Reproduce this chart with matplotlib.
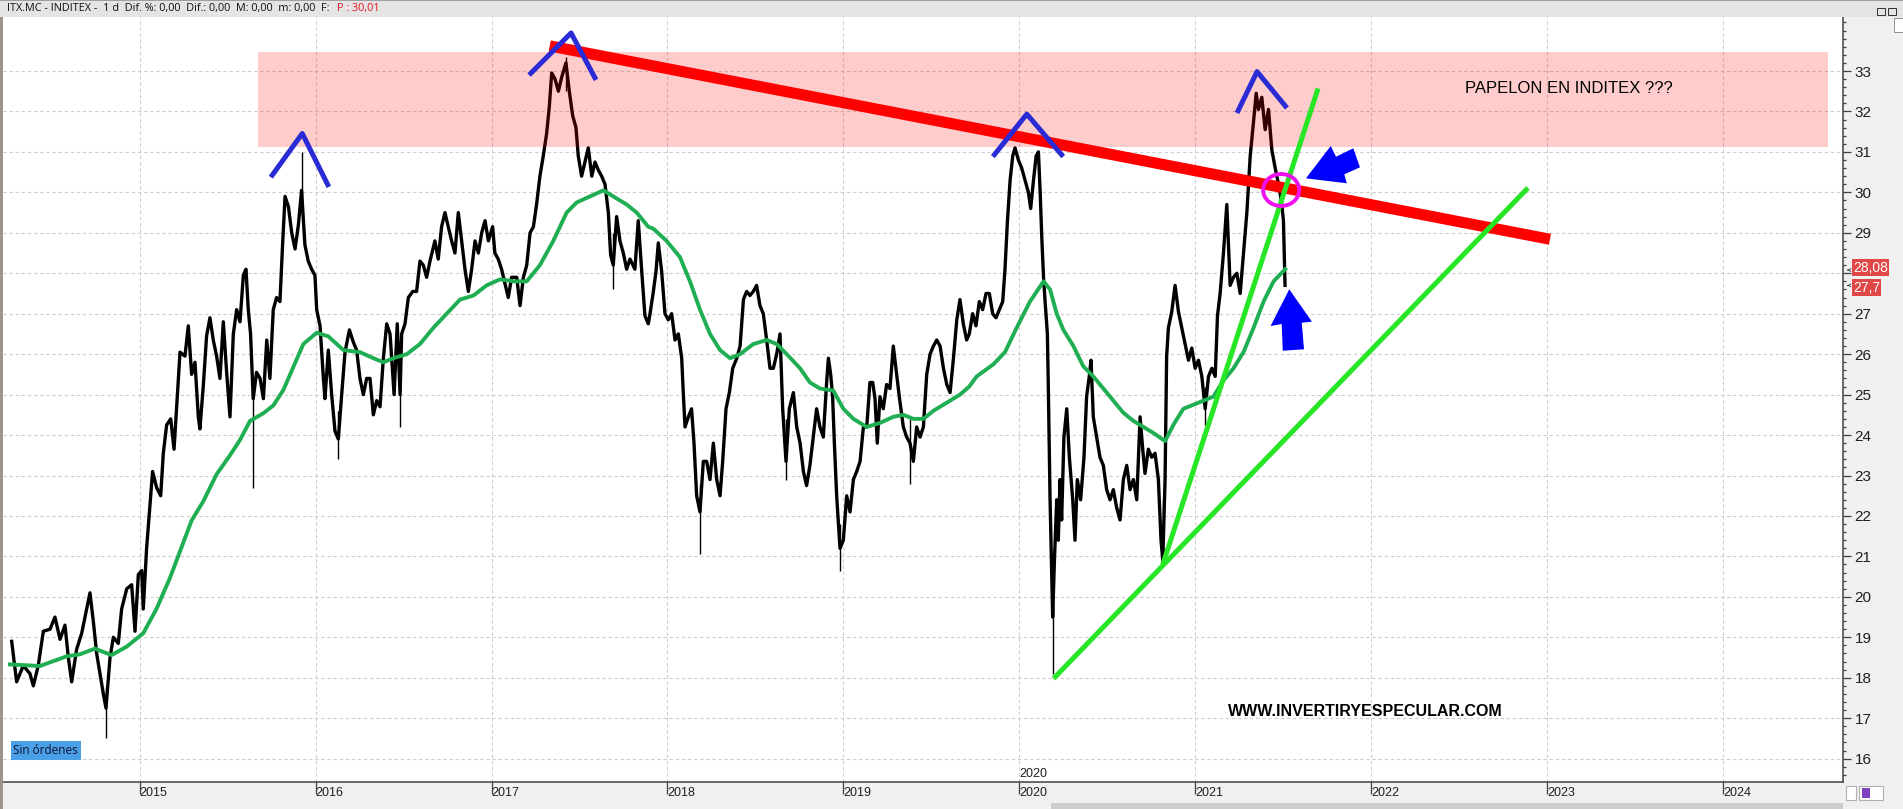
#!/usr/bin/env python
"""ITX.MC - INDITEX daily chart with hand drawn resistance / support lines."""

import matplotlib
matplotlib.use('Agg')
import matplotlib.pyplot as plt
from matplotlib.patches import Rectangle, Ellipse, Polygon
from matplotlib.ticker import MultipleLocator
from matplotlib import font_manager as fm

# ---------------------------------------------------------------- data
# price path: (decimal year, price)
px_2014 = [(2014.272, 18.9), (2014.300, 17.9), (2014.338, 18.3), (2014.376, 18.1), (2014.395, 17.8),
           (2014.423, 18.3), (2014.452, 19.15), (2014.490, 19.2), (2014.518, 19.5), (2014.547, 18.95),
           (2014.575, 19.3), (2014.594, 18.5), (2014.613, 17.9), (2014.641, 18.7), (2014.670, 19.1),
           (2014.698, 19.7), (2014.717, 20.1), (2014.736, 19.4), (2014.755, 18.6), (2014.774, 18.1),
           (2014.793, 17.6), (2014.808, 17.25), (2014.831, 18.5), (2014.850, 19.0), (2014.878, 18.85),
           (2014.897, 19.7), (2014.926, 20.2), (2014.954, 20.3), (2014.973, 19.15), (2014.992, 20.55)]
px_2015 = [(2015.011, 20.65), (2015.020, 19.7), (2015.039, 21.2), (2015.058, 22.25), (2015.073, 23.1),
           (2015.096, 22.7), (2015.119, 22.5), (2015.134, 23.55), (2015.153, 24.25), (2015.176, 24.4),
           (2015.195, 23.65), (2015.214, 25.0), (2015.229, 26.05), (2015.257, 25.95), (2015.276, 26.7),
           (2015.295, 25.5), (2015.314, 25.8), (2015.333, 24.45), (2015.342, 24.15), (2015.361, 25.2),
           (2015.380, 26.45), (2015.399, 26.9), (2015.418, 26.35), (2015.437, 25.95), (2015.456, 25.4),
           (2015.475, 26.8), (2015.494, 25.55), (2015.513, 24.45), (2015.532, 26.5), (2015.551, 27.1),
           (2015.570, 26.8), (2015.589, 27.95), (2015.604, 28.1), (2015.617, 27.1), (2015.630, 26.5),
           (2015.645, 24.9), (2015.664, 25.55), (2015.684, 25.4), (2015.703, 24.9), (2015.722, 26.35),
           (2015.740, 25.4), (2015.759, 27.1), (2015.778, 27.4), (2015.797, 27.3), (2015.812, 28.7),
           (2015.826, 29.9), (2015.845, 29.65), (2015.864, 29.0), (2015.883, 28.6), (2015.902, 29.2),
           (2015.920, 30.05), (2015.939, 28.7), (2015.958, 28.3), (2015.977, 28.1), (2015.996, 27.95)]
px_2016 = [(2016.006, 27.1), (2016.025, 26.7), (2016.044, 25.4), (2016.053, 24.9), (2016.072, 26.1),
           (2016.091, 25.0), (2016.110, 24.1), (2016.129, 23.9), (2016.148, 25.0), (2016.167, 26.05),
           (2016.192, 26.6), (2016.214, 26.3), (2016.233, 26.1), (2016.252, 25.4), (2016.271, 25.0),
           (2016.290, 25.4), (2016.309, 25.4), (2016.328, 24.5), (2016.347, 24.85), (2016.366, 24.7),
           (2016.385, 25.9), (2016.404, 26.75), (2016.423, 26.5), (2016.446, 25.0), (2016.464, 26.75),
           (2016.480, 25.0), (2016.489, 26.5), (2016.508, 26.75), (2016.527, 27.4), (2016.552, 27.55),
           (2016.574, 27.55), (2016.593, 28.3), (2016.612, 28.2), (2016.631, 27.9), (2016.650, 28.3),
           (2016.678, 28.8), (2016.697, 28.35), (2016.716, 29.15), (2016.735, 29.5), (2016.754, 29.15),
           (2016.773, 28.8), (2016.792, 28.5), (2016.811, 29.5), (2016.830, 28.8), (2016.849, 28.1),
           (2016.868, 27.55), (2016.887, 28.1), (2016.906, 28.8), (2016.925, 28.5), (2016.944, 29.0),
           (2016.963, 29.3), (2016.982, 28.8)]
px_2017 = [(2017.006, 29.15), (2017.019, 28.5), (2017.038, 28.35), (2017.057, 28.1), (2017.076, 27.75),
           (2017.095, 27.4), (2017.114, 27.9), (2017.143, 27.9), (2017.162, 27.2), (2017.181, 27.9),
           (2017.200, 28.2), (2017.219, 29.0), (2017.238, 29.15), (2017.256, 29.7), (2017.275, 30.4),
           (2017.294, 30.9), (2017.313, 31.45), (2017.328, 32.1), (2017.342, 32.95), (2017.361, 32.8),
           (2017.380, 32.5), (2017.399, 32.85), (2017.423, 33.2), (2017.442, 32.5), (2017.461, 31.9),
           (2017.480, 31.6), (2017.493, 30.9), (2017.512, 30.4), (2017.531, 30.75), (2017.550, 31.1),
           (2017.570, 30.4), (2017.588, 30.75), (2017.607, 30.55), (2017.626, 30.4), (2017.645, 30.2),
           (2017.664, 29.5), (2017.677, 28.45), (2017.692, 28.2), (2017.711, 29.4), (2017.730, 28.8),
           (2017.749, 28.5), (2017.768, 28.1), (2017.787, 28.35), (2017.815, 28.1), (2017.834, 29.3),
           (2017.853, 28.1), (2017.872, 26.95), (2017.891, 26.75), (2017.901, 27.0), (2017.920, 27.55),
           (2017.935, 28.05), (2017.948, 28.75), (2017.967, 28.05), (2017.986, 27.0)]
px_2018 = [(2018.005, 26.85), (2018.024, 27.0), (2018.043, 26.35), (2018.062, 26.5), (2018.081, 25.9),
           (2018.090, 25.05), (2018.100, 24.2), (2018.119, 24.45), (2018.137, 24.65), (2018.151, 23.8),
           (2018.166, 22.5), (2018.185, 22.1), (2018.204, 23.35), (2018.223, 23.35), (2018.242, 22.9),
           (2018.261, 23.8), (2018.280, 22.9), (2018.299, 22.5), (2018.314, 23.35), (2018.333, 24.65),
           (2018.352, 25.05), (2018.371, 25.65), (2018.394, 25.9), (2018.413, 26.2), (2018.432, 27.35),
           (2018.450, 27.55), (2018.469, 27.45), (2018.488, 27.55), (2018.507, 27.7), (2018.526, 27.2),
           (2018.545, 27.0), (2018.564, 26.35), (2018.583, 25.65), (2018.602, 25.65), (2018.621, 26.0),
           (2018.640, 26.5), (2018.655, 24.65), (2018.674, 23.35), (2018.693, 24.65), (2018.716, 25.05),
           (2018.735, 24.2), (2018.754, 23.8), (2018.773, 23.1), (2018.791, 22.75), (2018.810, 23.25),
           (2018.829, 23.95), (2018.848, 24.65), (2018.867, 24.2), (2018.886, 23.95), (2018.905, 25.3),
           (2018.915, 25.9), (2018.928, 25.5), (2018.939, 24.95), (2018.949, 23.8), (2018.962, 22.5),
           (2018.981, 21.2)]
px_2019 = [(2019.000, 21.4), (2019.019, 22.5), (2019.038, 22.1), (2019.057, 22.9), (2019.076, 23.1),
           (2019.095, 23.35), (2019.114, 24.2), (2019.133, 24.2), (2019.151, 25.3), (2019.167, 25.3),
           (2019.180, 24.9), (2019.193, 23.8), (2019.208, 24.95), (2019.227, 24.65), (2019.246, 25.25),
           (2019.265, 25.15), (2019.284, 26.2), (2019.299, 25.65), (2019.318, 24.95), (2019.341, 24.2),
           (2019.360, 23.95), (2019.379, 23.8), (2019.398, 23.35), (2019.417, 24.2), (2019.436, 23.95),
           (2019.455, 24.2), (2019.474, 25.5), (2019.493, 26.0), (2019.512, 26.2), (2019.531, 26.35),
           (2019.550, 26.2), (2019.569, 25.65), (2019.588, 25.25), (2019.607, 25.05), (2019.626, 25.9),
           (2019.645, 26.85), (2019.663, 27.35), (2019.682, 26.75), (2019.701, 26.35), (2019.716, 26.5),
           (2019.735, 27.0), (2019.754, 26.7), (2019.773, 27.3), (2019.792, 27.1), (2019.811, 27.5),
           (2019.830, 27.5), (2019.849, 27.0), (2019.868, 26.9), (2019.887, 27.1), (2019.906, 27.3),
           (2019.919, 28.1), (2019.933, 29.3), (2019.948, 30.3), (2019.963, 30.9), (2019.976, 31.1),
           (2019.995, 30.8)]
px_2020 = [(2020.014, 30.6), (2020.033, 30.3), (2020.052, 30.0), (2020.065, 29.6), (2020.081, 30.3),
           (2020.096, 30.9), (2020.109, 31.0), (2020.119, 30.0), (2020.128, 28.9), (2020.138, 27.9),
           (2020.147, 27.3), (2020.160, 26.5), (2020.166, 25.0), (2020.175, 22.45), (2020.185, 20.4),
           (2020.190, 19.5), (2020.200, 20.9), (2020.213, 22.4), (2020.222, 21.4), (2020.232, 22.9),
           (2020.241, 21.9), (2020.254, 23.95), (2020.270, 24.65), (2020.285, 23.45), (2020.304, 22.4),
           (2020.317, 21.4), (2020.330, 22.9), (2020.349, 22.4), (2020.368, 23.45), (2020.383, 24.95),
           (2020.398, 25.45), (2020.408, 25.85), (2020.421, 24.45), (2020.440, 23.95), (2020.459, 23.45),
           (2020.478, 23.25), (2020.497, 22.65), (2020.516, 22.4), (2020.535, 22.65), (2020.554, 22.2),
           (2020.573, 21.9), (2020.592, 22.9), (2020.611, 23.25), (2020.630, 22.65), (2020.649, 22.9),
           (2020.668, 22.4), (2020.687, 24.45), (2020.702, 23.65), (2020.715, 23.05), (2020.734, 23.65),
           (2020.753, 23.45), (2020.772, 23.55), (2020.791, 22.9), (2020.806, 21.4), (2020.816, 20.9),
           (2020.829, 22.9), (2020.838, 25.95), (2020.848, 26.65), (2020.867, 27.05), (2020.886, 27.7),
           (2020.905, 27.05), (2020.924, 26.65), (2020.943, 26.25), (2020.962, 25.85), (2020.981, 26.15)]
px_2021 = [(2021.000, 25.65), (2021.019, 25.85), (2021.038, 25.45), (2021.057, 24.65), (2021.076, 25.45),
           (2021.095, 25.65), (2021.114, 25.45), (2021.127, 26.95), (2021.142, 27.5), (2021.161, 28.5),
           (2021.180, 29.7), (2021.199, 27.7), (2021.218, 27.9), (2021.237, 28.0), (2021.256, 27.5),
           (2021.275, 28.5), (2021.294, 29.5), (2021.313, 30.9), (2021.332, 31.75), (2021.347, 32.45),
           (2021.360, 32.05), (2021.379, 32.35), (2021.398, 31.55), (2021.417, 32.05), (2021.436, 31.05),
           (2021.455, 30.6), (2021.474, 30.2), (2021.490, 29.8), (2021.502, 29.3), (2021.511, 27.7)]

# long wicks (date, low, high)
wick_dates = [2014.808, 2015.645, 2015.920, 2016.129, 2016.480, 2017.423, 2017.692,
              2018.185, 2018.674, 2018.981, 2019.379, 2020.190, 2020.816, 2021.057]
wick_lows = [16.5, 22.7, 29.6, 23.4, 24.2, 32.5, 27.6, 21.05, 22.9, 20.65, 22.8, 18.1, 20.8, 24.25]
wick_highs = [17.8, 25.4, 31.0, 24.6, 25.5, 33.35, 29.0, 22.8, 24.4, 21.8, 24.4, 20.8, 22.4, 25.2]

# green moving average
ma_a = [(2014.262, 18.33), (2014.432, 18.29), (2014.584, 18.53), (2014.660, 18.58), (2014.745, 18.72),
        (2014.840, 18.56), (2014.926, 18.77), (2015.020, 19.1), (2015.096, 19.71), (2015.172, 20.47),
        (2015.238, 21.23), (2015.295, 21.89), (2015.361, 22.36), (2015.437, 23.03), (2015.513, 23.5),
        (2015.570, 23.88), (2015.627, 24.35), (2015.703, 24.54), (2015.759, 24.73), (2015.816, 25.11),
        (2015.873, 25.68), (2015.930, 26.25), (2016.006, 26.53), (2016.072, 26.44)]
ma_b = [(2016.158, 26.1), (2016.252, 26.05), (2016.328, 25.9), (2016.385, 25.8), (2016.442, 25.9),
        (2016.518, 26.0), (2016.593, 26.25), (2016.669, 26.65), (2016.745, 27.0), (2016.821, 27.35),
        (2016.897, 27.45), (2016.972, 27.7), (2017.048, 27.85), (2017.124, 27.8), (2017.200, 27.8),
        (2017.275, 28.2), (2017.351, 28.8), (2017.427, 29.5), (2017.484, 29.75), (2017.560, 29.9),
        (2017.636, 30.05), (2017.692, 29.9), (2017.768, 29.7), (2017.825, 29.5), (2017.891, 29.15)]
ma_c = [(2017.920, 29.1), (2017.995, 28.8), (2018.071, 28.4), (2018.128, 27.8), (2018.185, 27.1),
        (2018.242, 26.5), (2018.299, 26.1), (2018.356, 25.9), (2018.413, 26.0), (2018.488, 26.25),
        (2018.564, 26.35), (2018.621, 26.25), (2018.678, 26.0), (2018.754, 25.65), (2018.810, 25.3),
        (2018.867, 25.15), (2018.943, 25.1), (2019.000, 24.65), (2019.057, 24.4), (2019.133, 24.2),
        (2019.208, 24.3), (2019.284, 24.45), (2019.341, 24.5), (2019.398, 24.4), (2019.455, 24.4),
        (2019.512, 24.6), (2019.588, 24.8), (2019.663, 25.0), (2019.716, 25.2)]
ma_d = [(2019.758, 25.45), (2019.853, 25.75), (2019.919, 26.05), (2019.985, 26.65), (2020.061, 27.3),
        (2020.138, 27.8), (2020.175, 27.6), (2020.213, 27.0), (2020.251, 26.6), (2020.308, 26.2),
        (2020.364, 25.7), (2020.421, 25.45), (2020.478, 25.15), (2020.535, 24.85), (2020.592, 24.55),
        (2020.649, 24.35), (2020.706, 24.2), (2020.763, 24.05), (2020.829, 23.85), (2020.876, 24.25),
        (2020.933, 24.65), (2020.990, 24.75), (2021.047, 24.85), (2021.104, 24.95), (2021.161, 25.35),
        (2021.218, 25.65), (2021.275, 26.05), (2021.332, 26.65), (2021.389, 27.3), (2021.446, 27.8),
        (2021.512, 28.1)]

# hand drawn objects
zone_dates = [2015.675, 2024.598]
zone_prices = [31.12, 33.46]
resist_dates = [2017.331, 2023.017]
resist_prices = [33.62, 28.84]
fast_support_dates = [2020.816, 2021.699]
fast_support_prices = [20.80, 32.57]
slow_support_dates = [2020.195, 2022.892]
slow_support_prices = [17.98, 30.11]
caret_dates = [[2015.745, 2015.924, 2016.075], [2017.213, 2017.452, 2017.594],
               [2019.850, 2020.043, 2020.250], [2021.238, 2021.352, 2021.522]]
caret_prices = [[30.375, 31.455, 30.135], [32.90, 33.94, 32.78],
                [30.884, 31.934, 30.884], [31.962, 32.985, 32.085]]
circle_center = (2021.489, 30.058)
circle_size = (0.205, 0.79)
arrow_left_dates = [2021.630, 2021.771, 2021.801, 2021.899, 2021.937, 2021.848, 2021.862]
arrow_left_prices = [30.347, 31.146, 30.881, 31.089, 30.619, 30.446, 30.224]
arrow_up_dates = [2021.535, 2021.664, 2021.606, 2021.619, 2021.498, 2021.492, 2021.429]
arrow_up_prices = [27.603, 26.802, 26.777, 26.120, 26.085, 26.745, 26.696]

year_ticks = [2015, 2016, 2017, 2018, 2019, 2020, 2021, 2022, 2023, 2024]
price_ticks = list(range(16, 34))
last_price = 27.7
ma_last = 28.08
header_text = 'ITX.MC - INDITEX -  1 d  Dif. %: 0,00  Dif.: 0,00  M: 0,00  m: 0,00  F:'
header_price = 'P : 30,01'

# ---------------------------------------------------------------- figure
W, H = 1903, 809
installed = {f.name for f in fm.fontManager.ttflist}
narrow = 'Liberation Sans Narrow' if 'Liberation Sans Narrow' in installed else 'Liberation Sans'
plt.rcParams['font.family'] = ['Liberation Sans', 'DejaVu Sans']


def fx(p):
    return p / W


def fy(p):
    return 1 - p / H


fig = plt.figure(figsize=(W / 100, H / 100), dpi=100, facecolor='#f0f0f0')
ax = fig.add_axes([fx(3), fy(782), fx(1843) - fx(3), fy(17) - fy(782)])
ax.set_facecolor('white')
ax.set_xlim(2014.2226, 2024.6831)
ax.set_ylim(15.423, 34.335)

# axes / ticks; the "28" label sits under the price boxes, as on the platform
ax.yaxis.tick_right()
ax.set_yticks(price_ticks)
ax.set_yticklabels(['' if p == 28 else str(p) for p in price_ticks])
ax.yaxis.set_minor_locator(MultipleLocator(0.2))
ax.tick_params(axis='y', which='major', length=5.8, width=0.9, color='#404040', pad=2.5,
               labelsize=11, labelcolor='#202020')
ax.tick_params(axis='y', which='minor', length=2.3, width=0.9, color='#404040')
ax.set_xticks(year_ticks)
ax.set_xticklabels([str(y) for y in year_ticks], family=narrow)
ax.tick_params(axis='x', which='major', length=8.5, width=0.9, color='#404040', pad=-5.2,
               labelsize=9, labelcolor='#202020')
for lbl in ax.get_xticklabels():
    lbl.set_horizontalalignment('left')
for side in ('top', 'left'):
    ax.spines[side].set_visible(False)
for side in ('right', 'bottom'):
    ax.spines[side].set_color('#404040')
    ax.spines[side].set_linewidth(1.1)
ax.set_axisbelow(True)
ax.grid(True, which='major', color='#cdcdcd', linestyle=(0, (3, 2.5)), linewidth=0.8)

# price path and wicks
price = px_2014 + px_2015 + px_2016 + px_2017 + px_2018 + px_2019 + px_2020 + px_2021
ax.plot([d for d, _ in price], [v for _, v in price], color='black', lw=2.4, zorder=2)
ax.vlines(wick_dates, wick_lows, wick_highs, color='black', lw=1.0, zorder=2)

ma = ma_a + ma_b + ma_c + ma_d
ax.plot([d for d, _ in ma], [v for _, v in ma], color='#1fae52', lw=2.8, zorder=2.5)

# resistance zone (translucent red, drawn over the candles)
ax.add_patch(Rectangle((zone_dates[0], zone_prices[0]), zone_dates[1] - zone_dates[0],
                       zone_prices[1] - zone_prices[0], facecolor='red', alpha=0.2,
                       edgecolor='none', zorder=3))
ax.plot(resist_dates, resist_prices, color='#ff0000', lw=8, solid_capstyle='butt', zorder=4)
ax.plot(fast_support_dates, fast_support_prices, color='#26e626', lw=3.6,
        solid_capstyle='butt', zorder=4.5)
ax.plot(slow_support_dates, slow_support_prices, color='#26e626', lw=3.6,
        solid_capstyle='butt', zorder=4.5)
for cd, cp in zip(caret_dates, caret_prices):
    ax.plot(cd, cp, color='#2b2bd6', lw=3.6, solid_capstyle='butt', zorder=5)
ax.add_patch(Ellipse(circle_center, circle_size[0], circle_size[1], fill=False,
                     edgecolor='#ee10ee', lw=2.8, zorder=6))
ax.add_patch(Polygon(list(zip(arrow_left_dates, arrow_left_prices)), closed=True,
                     facecolor='#0000ff', edgecolor='none', zorder=6))
ax.add_patch(Polygon(list(zip(arrow_up_dates, arrow_up_prices)), closed=True,
                     facecolor='#0000ff', edgecolor='none', zorder=6))

# texts
ax.text(0.8508, 0.9064, 'PAPELON EN INDITEX ???', transform=ax.transAxes, fontsize=12,
        ha='center', va='center', color='black', zorder=7)
ax.text(0.7405, 0.0928, 'WWW.INVERTIRYESPECULAR.COM', transform=ax.transAxes, fontsize=11.5,
        fontweight='bold', ha='center', va='center', color='black', zorder=7)
ax.text(0.0057, 0.0412, 'Sin órdenes', transform=ax.transAxes, fontsize=8.5, family='Open Sans',
        ha='left', va='center', color='#101030', zorder=7,
        bbox=dict(boxstyle='square,pad=0.22', facecolor='#4aa0e6', edgecolor='none'))
ax.text(2020.0, 0.0105, '2020', transform=ax.get_xaxis_transform(), fontsize=9, family=narrow,
        ha='left', va='center', color='#202020', zorder=7)

# price labels on the right scale, stacked one above the other
ax.text(1.0054, ma_last + 0.06, '28,08', transform=ax.get_yaxis_transform(), fontsize=10,
        color='white', ha='left', va='center', clip_on=False, zorder=10,
        bbox=dict(boxstyle='square,pad=0.1', facecolor='#e04848', edgecolor='none'))
ax.text(1.0054, last_price - 0.06, '27,7', transform=ax.get_yaxis_transform(), fontsize=10,
        color='white', ha='left', va='center', clip_on=False, zorder=11,
        bbox=dict(boxstyle='square,pad=0.1', facecolor='#e04848', edgecolor='none'))
for v in (ma_last, last_price):
    ax.annotate('', xy=(1.0008, v), xytext=(1.0042, v), xycoords=ax.get_yaxis_transform(),
                textcoords=ax.get_yaxis_transform(), annotation_clip=False,
                arrowprops=dict(arrowstyle='->', color='#303030', lw=0.6, mutation_scale=5))

# window chrome: header bar, frame, scrollbar, buttons
fig.add_artist(Rectangle((0, fy(17)), 1, 17 / H, transform=fig.transFigure,
                         facecolor='#e4e4e4', edgecolor='none'))
fig.add_artist(Rectangle((0, fy(1)), 1, 1 / H, transform=fig.transFigure,
                         facecolor='#a0a0a0', edgecolor='none'))
fig.add_artist(Rectangle((0, 0), fx(3), fy(17), transform=fig.transFigure,
                         facecolor='#9c948c', edgecolor='none'))
fig.add_artist(Rectangle((fx(1051), 0), fx(1843) - fx(1051), 6 / H, transform=fig.transFigure,
                         facecolor='#cdcdcd', edgecolor='none'))
fig.add_artist(Rectangle((fx(1846), fy(800)), 10 / W, 14 / H, transform=fig.transFigure,
                         facecolor='white', edgecolor='#b0b0b0', lw=0.8))
fig.add_artist(Rectangle((fx(1859), fy(800)), 24 / W, 14 / H, transform=fig.transFigure,
                         facecolor='white', edgecolor='#b0b0b0', lw=0.8))
fig.add_artist(Rectangle((fx(1862), fy(798)), 8 / W, 10 / H, transform=fig.transFigure,
                         facecolor='#8040c0', edgecolor='none'))
fig.add_artist(Rectangle((fx(1877), fy(15)), 8 / W, 7 / H, transform=fig.transFigure,
                         facecolor='none', edgecolor='#303030', lw=0.7))
fig.add_artist(Rectangle((fx(1888), fy(15)), 8 / W, 7 / H, transform=fig.transFigure,
                         facecolor='none', edgecolor='#303030', lw=0.7))
fig.add_artist(Rectangle((fx(1894), fy(32)), 9 / W, 14 / H, transform=fig.transFigure,
                         facecolor='white', edgecolor='#909090', lw=0.7))

fig.text(fx(7), fy(8.5), header_text, fontsize=7.8, family='Open Sans', ha='left', va='center',
         color='#101010')
fig.text(fx(337), fy(8.5), header_price, fontsize=7.8, family='Open Sans', ha='left', va='center',
         color='#e8141e')

fig.savefig('out.png', dpi=100, facecolor=fig.get_facecolor())
